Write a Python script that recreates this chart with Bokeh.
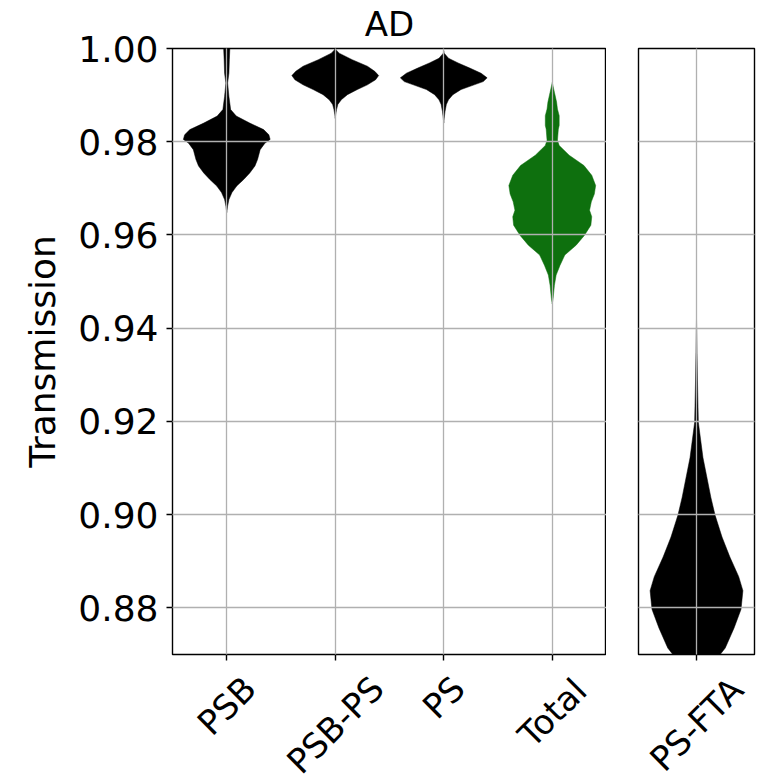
import math
from bokeh.plotting import figure
from bokeh.layouts import row, column
from bokeh.models import Range1d, FixedTicker, NumeralTickFormatter
from bokeh.core.properties import value
from bokeh.embed import file_html
from bokeh.resources import INLINE

# ---------------- data ----------------
title_text = "AD"
y_label = "Transmission"
y_ticks = [0.88, 0.90, 0.92, 0.94, 0.96, 0.98, 1.00]

left_categories = ["PSB", "PSB-PS", "PS", "Total"]
right_categories = ["PS-FTA"]

# violin profiles: transmission level and relative density (1 = widest point)
psb_y = [1.006, 1.003, 0.9997, 0.9976, 0.9947, 0.9926, 0.9897, 0.9869, 0.9855, 0.9840,
         0.9826, 0.9815, 0.9805, 0.9797, 0.9783, 0.9762, 0.9748, 0.9733, 0.9719, 0.9705,
         0.9691, 0.9676, 0.9662, 0.9648]
psb_d = [0, .06, .07, .06, .05, .02, .05, .09, .22, .53, .85, .97, 1.0, .88, .77, .71,
         .65, .53, .39, .23, .12, .05, .02, 0]

psbps_y = [1.0002, 0.9997, 0.9990, 0.9976, 0.9962, 0.9951, 0.9942, 0.9933, 0.9922, 0.9912,
           0.9901, 0.9890, 0.9880, 0.9869, 0.9858, 0.9850]
psbps_d = [0, .02, .09, .39, .74, .91, 1.0, .93, .74, .51, .28, .14, .06, .03, .01, 0]

ps_y = [0.9995, 0.9990, 0.9979, 0.9969, 0.9958, 0.9947, 0.9937, 0.9929, 0.9922, 0.9912,
        0.9901, 0.9890, 0.9880, 0.9865, 0.9850, 0.9840]
ps_d = [0, .01, .11, .33, .60, .86, 1.0, .91, .70, .40, .21, .11, .06, .03, .01, 0]

total_y = [0.9927, 0.9906, 0.9885, 0.9870, 0.9856, 0.9835, 0.9827, 0.9803, 0.9792, 0.9771,
           0.9749, 0.9728, 0.9706, 0.9688, 0.9671, 0.9653, 0.9639, 0.9621, 0.9599, 0.9578,
           0.9557, 0.9535, 0.9514, 0.9492, 0.9464, 0.9452]
total_d = [0, .05, .10, .12, .16, .16, .14, .12, .16, .39, .73, .91, 1.0, .97, .90, .86,
           .91, .89, .74, .55, .29, .18, .09, .05, .02, 0]

psfta_y = [0.942, 0.9291, 0.9198, 0.9122, 0.9037, 0.8999, 0.8952, 0.8909, 0.8867, 0.8837,
           0.8797, 0.8757, 0.8714, 0.8700, 0.8685]
psfta_d = [0, .02, .04, .14, .31, .40, .55, .72, .91, 1.0, .96, .81, .62, .51, .44]

left_profiles = [(psb_y, psb_d), (psbps_y, psbps_d), (ps_y, ps_d), (total_y, total_d)]
left_colors = ["#000000", "#000000", "#000000", "#0e700e"]
right_profiles = [(psfta_y, psfta_d)]
right_colors = ["#000000"]

# ---------------- styling / layout ----------------
FONT = "DejaVu Sans"
FS = 36
TITLE_FS = 34
XLAB_FS = 34
HALF_WIDTH = 0.4
GRID = "#b0b0b0"

LEFT_W, LEFT_BORDER = 606, 172
RIGHT_W, RIGHT_BORDER_L, RIGHT_BORDER_R = 161, 32, 13
TOP, FRAME_H, TICK_STRIP = 46, 608, 13
LABEL_H = 782 - TOP - FRAME_H - TICK_STRIP

# DejaVu Sans advance widths (em) for label placement
CW = {"P": 0.603, "S": 0.635, "B": 0.686, "-": 0.361, "T": 0.611, "o": 0.612,
      "t": 0.392, "a": 0.613, "l": 0.278, "F": 0.575, "A": 0.684}


def violin(p, pos, ys, ds, color):
    xs_r = [pos + HALF_WIDTH * d for d in ds]
    xs_l = [pos - HALF_WIDTH * d for d in ds]
    xs = xs_r + xs_l[::-1]
    yy = list(ys) + list(ys)[::-1]
    p.patch(xs, yy, fill_color=color, line_color=color, line_width=0.5)


def style(p, ncat):
    p.background_fill_color = "white"
    p.border_fill_color = "white"
    p.outline_line_color = "black"
    p.outline_line_width = 1.4
    for g in (p.xgrid, p.ygrid):
        g.grid_line_color = GRID
        g.grid_line_width = 1.3
        g.level = "overlay"
    p.ygrid.ticker = FixedTicker(ticks=y_ticks)
    for ax in (p.xaxis, p.yaxis):
        ax.axis_line_color = None
        ax.major_tick_line_color = "black"
        ax.major_tick_line_width = 1.4
        ax.major_tick_out = 6
        ax.major_tick_in = 0
        ax.minor_tick_line_color = None
        ax.major_label_text_font = FONT
        ax.major_label_text_font_size = f"{FS}px"
        ax.major_label_text_color = "black"
        ax.axis_label_text_font = FONT
        ax.axis_label_text_font_size = f"{FS}px"
        ax.axis_label_text_font_style = "normal"
        ax.axis_label_text_color = "black"
    p.yaxis.ticker = FixedTicker(ticks=y_ticks)
    p.yaxis.formatter = NumeralTickFormatter(format="0.00")
    p.yaxis.major_label_standoff = 8
    # x tick marks only; the category names are drawn in the strip below
    p.xaxis.ticker = FixedTicker(ticks=list(range(1, ncat + 1)))
    p.xaxis.major_label_overrides = {i + 1: "" for i in range(ncat)}
    p.xaxis.major_label_text_font_size = "0px"
    p.xaxis.major_label_standoff = 0


def label_strip(width, x_range, cats):
    s = figure(width=width, height=LABEL_H, output_backend="svg", toolbar_location=None,
               x_range=x_range, y_range=Range1d(0, LABEL_H),
               x_axis_location=None, y_axis_location=None,
               min_border_left=0, min_border_right=0, min_border_top=0,
               min_border_bottom=0)
    s.outline_line_color = None
    s.grid.visible = False
    s.background_fill_color = "white"
    s.border_fill_color = "white"
    h = 1.164 * XLAB_FS
    xs, ys = [], []
    for i, c in enumerate(cats):
        w = sum(CW.get(ch, 0.6) for ch in c) * XLAB_FS
        xs.append(i + 1)
        ys.append(LABEL_H - 1 - (w + h) / (2 * math.sqrt(2)))
    s.text(x=xs, y=ys, text=list(cats), angle=math.pi / 4, text_align="center",
           text_baseline="middle", text_font=value(FONT), text_font_size=f"{XLAB_FS}px",
           text_color="black")
    return s


# ---------------- left panel ----------------
left_frame_w = LEFT_W - LEFT_BORDER
p1 = figure(width=LEFT_W, height=TOP + FRAME_H + TICK_STRIP, output_backend="svg",
            toolbar_location=None,
            x_range=Range1d(0.5, 4.5), y_range=Range1d(0.87, 1.00),
            min_border_left=LEFT_BORDER, min_border_right=0, min_border_top=TOP,
            min_border_bottom=TICK_STRIP)
p1.title.text = title_text
p1.title.align = "center"
p1.title.vertical_align = "top"
p1.title.text_font = FONT
p1.title.text_font_size = f"{TITLE_FS}px"
p1.title.text_font_style = "normal"
p1.title.text_color = "black"
p1.title.standoff = 6
style(p1, len(left_categories))
p1.yaxis.axis_label = y_label
p1.yaxis.axis_label_standoff = 12
for i, ((ys, ds), col) in enumerate(zip(left_profiles, left_colors)):
    violin(p1, i + 1, ys, ds, col)

upu_l = left_frame_w / 4.0
l1 = label_strip(LEFT_W, Range1d(0.5 - LEFT_BORDER / upu_l, 4.5), left_categories)

# ---------------- right panel ----------------
right_frame_w = RIGHT_W - RIGHT_BORDER_L - RIGHT_BORDER_R
p2 = figure(width=RIGHT_W, height=TOP + FRAME_H + TICK_STRIP, output_backend="svg",
            toolbar_location=None,
            x_range=Range1d(0.5, 1.5), y_range=Range1d(0.87, 1.00),
            min_border_left=RIGHT_BORDER_L, min_border_right=RIGHT_BORDER_R,
            min_border_top=TOP, min_border_bottom=TICK_STRIP)
style(p2, len(right_categories))
p2.yaxis.visible = False
for i, ((ys, ds), col) in enumerate(zip(right_profiles, right_colors)):
    violin(p2, i + 1, ys, ds, col)

upu_r = float(right_frame_w)
l2 = label_strip(RIGHT_W, Range1d(0.5 - RIGHT_BORDER_L / upu_r, 1.5 + RIGHT_BORDER_R / upu_r),
                 right_categories)

layout = column(row(p1, p2, spacing=0), row(l1, l2, spacing=0), spacing=0)
open("out.html", "w").write(file_html(layout, INLINE))
